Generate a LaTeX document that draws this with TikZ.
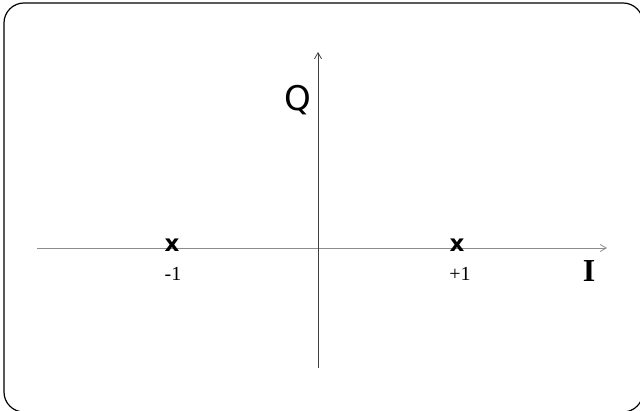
\documentclass[tikz,border=0pt]{standalone}
\usepackage{fontspec}
\setmainfont{Liberation Serif}
\newfontfamily\lblsans{DejaVu Sans}
\usetikzlibrary{arrows.meta}
\begin{document}
\begin{tikzpicture}[x=1pt,y=-1pt,
  axis/.style={line width=0.8pt,-{Straight Barb[length=6pt,width=7pt]}},
  cross/.style={font=\lblsans\bfseries\fontsize{23}{23}\selectfont, inner sep=0pt},
  num/.style={font=\fontsize{20}{20}\selectfont, inner sep=0pt},
  big/.style={inner sep=0pt}]
\useasboundingbox (0,0) rectangle (640,411);
\begin{scope}
\clip (0,0) rectangle (640,411);
\draw[line width=1.2pt, rounded corners=20pt] (4,3) rectangle (643,412);
\end{scope}
\coordinate (hl) at (37,248);
\coordinate (hr) at (607,248);
\coordinate (vb) at (318,368);
\coordinate (vt) at (318,52);
\draw[axis, draw=black!45] (hl) -- (hr);
\draw[axis, draw=black!75] (vb) -- (vt);
\node[big, font=\lblsans\fontsize{34}{34}\selectfont] (Q) at (298,100) {Q};
\node[big, font=\bfseries\fontsize{32}{32}\selectfont] (I) at (589,271) {I};
\node[cross] (xm) at (172,245) {x};
\node[cross] (xp) at (457,245) {x};
\node[num] (m1) at (173,274) {-1};
\node[num] (p1) at (460,274) {+1};
\end{tikzpicture}
\end{document}
